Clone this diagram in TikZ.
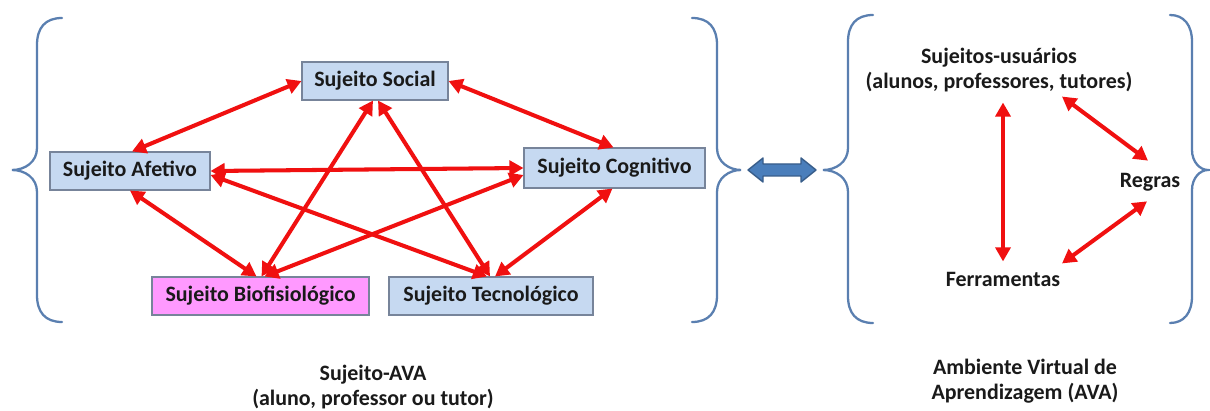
\documentclass[tikz,border=0pt]{standalone}
\usepackage{fontspec}
\setmainfont{Carlito}
\usetikzlibrary{arrows.meta,calc}
\definecolor{boxblue}{HTML}{C6D9F1}
\definecolor{boxpink}{HTML}{FF99FF}
\definecolor{boxline}{HTML}{77849A}
\definecolor{bracecol}{HTML}{5A7FB0}
\definecolor{linkred}{HTML}{F01010}
\definecolor{txt}{HTML}{1A1A1A}
\definecolor{blockfill}{HTML}{4A7EBB}
\definecolor{blockline}{HTML}{385D8A}
\tikzset{
  subj/.style={draw=boxline, line width=0.6pt, fill=boxblue, inner sep=0pt,
    minimum height=0.76cm, font=\fontsize{12.5}{15}\selectfont\bfseries, text=txt},
  label/.style={inner sep=0pt, align=center,
    font=\fontsize{12.5}{14.5}\selectfont\bfseries, text=txt},
  link/.style={draw=linkred, line width=2.3pt,
    {Triangle[length=8pt,width=8.5pt]}-{Triangle[length=8pt,width=8.5pt]}},
  brace/.style={draw=bracecol, line width=1.3pt, line cap=round}
}
\begin{document}
\begin{tikzpicture}[x=0.02cm,y=-0.02cm]
\useasboundingbox (0,0) rectangle (1210,411);
\fill[white] (0,0) rectangle (1210,411);

% the five facets of the subject
\node[subj, minimum width=2.92cm] (soc) at (375,81) {Sujeito Social};
\node[subj, minimum width=3.2cm] (afe) at (130,171) {Sujeito Afetivo};
\node[subj, minimum width=3.62cm, minimum height=0.8cm] (cog) at (614.5,168) {Sujeito Cognitivo};
\node[subj, minimum width=4.34cm, fill=boxpink] (bio) at (260.5,296) {Sujeito Biofisiológico};
\node[subj, minimum width=4.08cm] (tec) at (491,296) {Sujeito Tecnológico};

% relations among the facets
\draw[link] (soc.west) -- ($(afe.north)+(2,0)$);
\draw[link] (soc.east) -- ($(cog.north)+(-1,0)$);
\draw[link] (afe.east) -- (cog.west);
\draw[link] ($(afe.east)+(0,4)$) -- ($(tec.north)+(-4,0)$);
\draw[link] (afe.south) -- ($(bio.north)+(-4,0)$);
\draw[link] ($(soc.south)+(-2,0)$) -- ($(bio.north)+(1,0)$);
\draw[link] ($(soc.south)+(3,0)$) -- ($(tec.north)+(-1,0)$);
\draw[link] ($(cog.west)+(0,7)$) -- ($(bio.north)+(4,0)$);
\draw[link] ($(cog.south)+(-2,0)$) -- ($(tec.north)+(4,0)$);

% brace around the subject
\draw[brace] (62,18) .. controls (45,18) and (37,28) .. (37,45) -- (37,148)
  .. controls (37,162) and (25,170) .. (12,170)
  .. controls (25,170) and (37,178) .. (37,192) -- (37,295)
  .. controls (37,312) and (45,322) .. (62,322);
\draw[brace] (692,18) .. controls (709,18) and (717,28) .. (717,45) -- (717,148)
  .. controls (717,162) and (729,170) .. (741,170)
  .. controls (729,170) and (717,178) .. (717,192) -- (717,295)
  .. controls (717,312) and (709,322) .. (692,322);

% two-way block arrow between the groups
\filldraw[fill=blockfill, draw=blockline, line width=0.8pt, line join=round]
  (748,170) -- (763,158) -- (763,164) -- (801,164) -- (801,158) -- (816,170)
  -- (801,182) -- (801,176) -- (763,176) -- (763,182) -- cycle;

% brace around the learning environment
\draw[brace] (873,15) .. controls (856,15) and (848,25) .. (848,42) -- (848,148)
  .. controls (848,162) and (836,170) .. (823,170)
  .. controls (836,170) and (848,178) .. (848,192) -- (848,296)
  .. controls (848,313) and (856,323) .. (873,323);
\draw[brace] (1170,15) .. controls (1184,15) and (1192,25) .. (1192,42) -- (1192,150)
  .. controls (1192,162) and (1200,170) .. (1208,170)
  .. controls (1200,170) and (1192,178) .. (1192,190) -- (1192,296)
  .. controls (1192,313) and (1184,323) .. (1170,323);

% elements of the environment
\node[label] (usr) at (999,70) {Sujeitos-usuários\\(alunos, professores, tutores)};
\node[label] (reg) at (1150,182) {Regras};
\node[label] (fer) at (1003,279) {Ferramentas};

\draw[link] ($(usr.south)+(4,10)$) -- ($(fer.north)+(0,-10)$);
\draw[link] ($(usr.south)+(63,4)$) -- ($(reg.north)+(-2,-12)$);
\draw[link] ($(reg.south)+(-3,10)$) -- ($(fer.north)+(59,-8)$);

% captions
\node[label] (sav) at (373,387) {Sujeito-AVA\\(aluno, professor ou tutor)};
\node[label] (ava) at (1025,381) {Ambiente Virtual de\\Aprendizagem (AVA)};
\end{tikzpicture}
\end{document}
